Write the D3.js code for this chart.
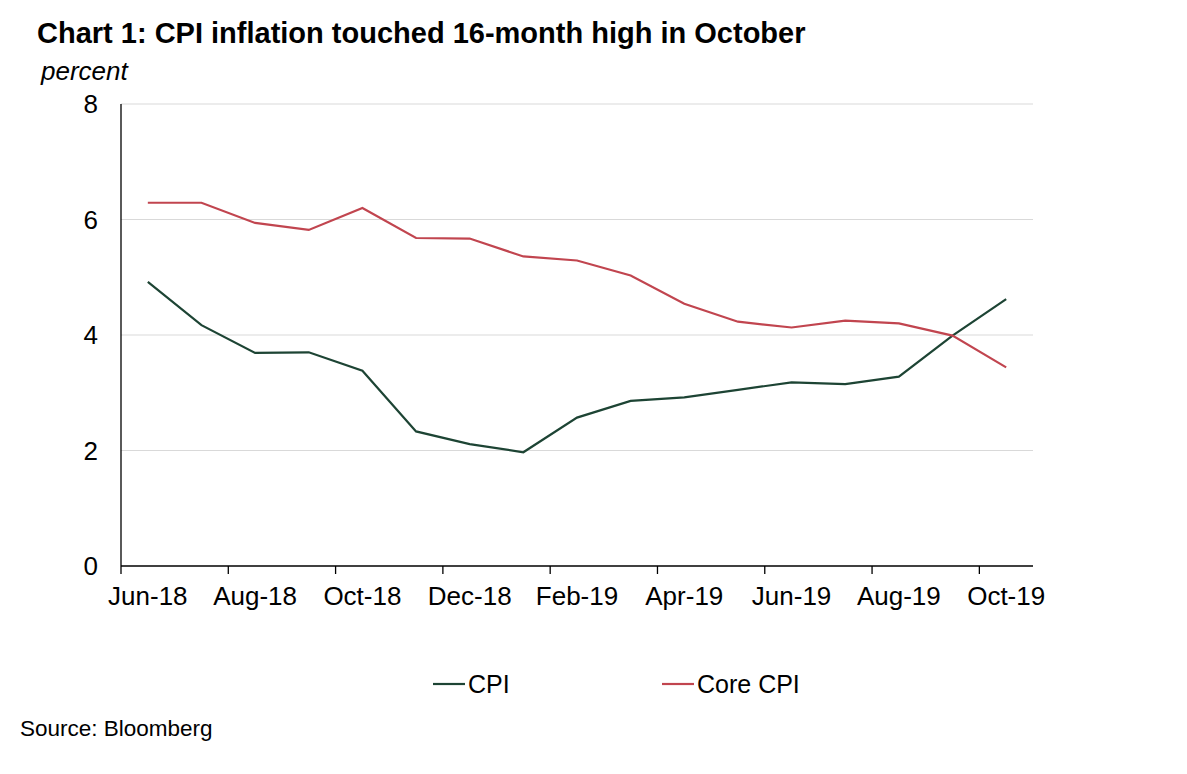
<!DOCTYPE html>
<html>
<head>
<meta charset="utf-8">
<script src="https://cdn.jsdelivr.net/npm/d3@7/dist/d3.min.js"></script>
<style>
  body { margin: 0; background: #fff; }
  svg { font-family: Arial, "Liberation Sans", sans-serif; }
</style>
</head>
<body>
<svg width="1187" height="774"></svg>
<script>
var months = ['Jun-18','Jul-18','Aug-18','Sep-18','Oct-18','Nov-18','Dec-18','Jan-19','Feb-19',
              'Mar-19','Apr-19','May-19','Jun-19','Jul-19','Aug-19','Sep-19','Oct-19']
var cpi  = [4.92, 4.17, 3.69, 3.70, 3.38, 2.33, 2.11, 1.97, 2.57, 2.86, 2.92, 3.05, 3.18, 3.15, 3.28, 3.99, 4.62]
var core = [6.29, 6.29, 5.94, 5.82, 6.20, 5.68, 5.67, 5.36, 5.29, 5.03, 4.54, 4.23, 4.13, 4.25, 4.20, 3.99, 3.44]
var yTicks = [0, 2, 4, 6, 8]
var seriesNames = ['CPI', 'Core CPI']
var colors = ['#1d4434', '#c1454f']

var svg = d3.select('svg')
var pad = {left: 121, right: 1033, top: 104, bottom: 566}

var x = d3.scaleBand().domain(months).range([pad.left, pad.right])
var y = d3.scaleLinear().domain([0, 8]).range([pad.bottom, pad.top])

// title + unit
svg.append('text').attr('x', 37).attr('y', 43)
   .style('font-size', '29px').style('font-weight', 'bold').text('Chart 1: CPI inflation touched 16-month high in October')
svg.append('text').attr('x', 41).attr('y', 80)
   .style('font-size', '26px').style('font-style', 'italic').text('percent')

// gridlines
svg.append('g').selectAll('line')
   .data(yTicks.filter(function(d){ return d > 0 }))
   .enter().append('line')
   .attr('x1', pad.left).attr('x2', pad.right)
   .attr('y1', function(d){ return y(d) }).attr('y2', function(d){ return y(d) })
   .style('stroke', '#d9d9d9').style('stroke-width', 1)

// y labels
svg.append('g').selectAll('text')
   .data(yTicks).enter().append('text')
   .attr('x', 98).attr('y', function(d){ return y(d) })
   .attr('dy', '0.36em')
   .style('text-anchor', 'end').style('font-size', '26px')
   .text(function(d){ return d })

// axis lines
svg.append('line').attr('x1', pad.left).attr('x2', pad.left).attr('y1', pad.top).attr('y2', pad.bottom)
   .style('stroke', '#000').style('stroke-width', 1.3)
svg.append('line').attr('x1', pad.left).attr('x2', pad.right).attr('y1', pad.bottom).attr('y2', pad.bottom)
   .style('stroke', '#000').style('stroke-width', 1.3)

// x ticks at band starts, every 2 months
var tickMonths = months.filter(function(d, i){ return i % 2 == 0 })
svg.append('g').selectAll('line')
   .data(tickMonths).enter().append('line')
   .attr('x1', function(d){ return x(d) }).attr('x2', function(d){ return x(d) })
   .attr('y1', pad.bottom).attr('y2', pad.bottom + 8)
   .style('stroke', '#000').style('stroke-width', 1.3)

svg.append('g').selectAll('text')
   .data(tickMonths).enter().append('text')
   .attr('x', function(d){ return x(d) + x.bandwidth() / 2 })
   .attr('y', 605)
   .style('text-anchor', 'middle').style('font-size', '26px')
   .text(function(d){ return d })

// lines
var line = d3.line()
   .x(function(d, i){ return x(months[i]) + x.bandwidth() / 2 })
   .y(function(d){ return y(d) })

;[cpi, core].forEach(function(s, k){
  svg.append('path').datum(s)
     .attr('d', line)
     .style('fill', 'none').style('stroke', colors[k]).style('stroke-width', 2.2)
})

// legend
var legendX = [433, 662]
seriesNames.forEach(function(n, k){
  svg.append('line').attr('x1', legendX[k]).attr('x2', legendX[k] + 32)
     .attr('y1', 684).attr('y2', 684)
     .style('stroke', colors[k]).style('stroke-width', 2.2)
  svg.append('text').attr('x', legendX[k] + 35).attr('y', 693)
     .style('font-size', '25px').text(n)
})

svg.append('text').attr('x', 20).attr('y', 736)
   .style('font-size', '22.5px').text('Source: Bloomberg')
</script>
</body>
</html>
